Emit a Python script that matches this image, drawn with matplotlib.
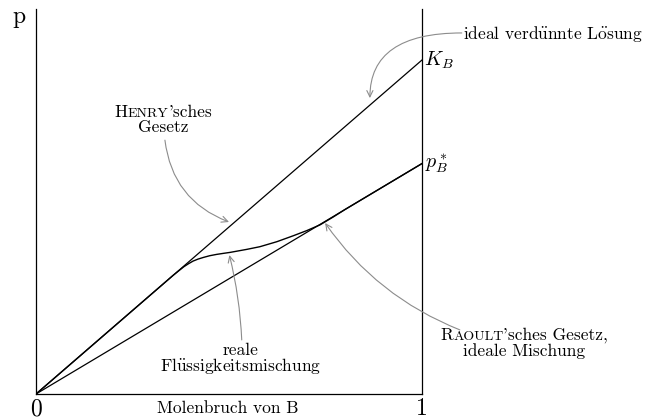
import matplotlib
matplotlib.use("Agg")
import matplotlib.pyplot as plt
import matplotlib.transforms as mtransforms

plt.rcParams['mathtext.fontset'] = 'cm'
plt.rcParams['font.family'] = 'cmr10'

# mole fraction of B and partial pressures (K_B = 1)
x_ends = [0.0, 1.0]
henry_p = [0.0, 1.0]
raoult_p = [0.0, 0.69]

# real liquid mixture: follows Henry at low x_B, Raoult near x_B = 1
x_real = [0.0, 0.34, 0.355, 0.37, 0.383, 0.395, 0.407, 0.42, 0.434, 0.45, 0.468,
          0.485, 0.503, 0.546, 0.580, 0.624, 0.667, 0.701, 0.736, 0.77, 0.80, 1.0]
p_real = [0.0, 0.34, 0.355, 0.369, 0.381, 0.390, 0.398, 0.404, 0.409, 0.414, 0.418,
          0.421, 0.424, 0.433, 0.441, 0.456, 0.474, 0.489, 0.5065, 0.530, 0.552, 0.69]

FS = 12.5
SC = FS * 0.8
GREY = '#8c8c8c'

fig = plt.figure(figsize=(6.65, 4.19), dpi=100)
ax = fig.add_axes([36/665, 25/419, 386/665, 1.153*334/419])
ax.set_xlim(0, 1)
ax.set_ylim(0, 1.153)
ax.set_xticks([])
ax.set_yticks([])
ax.spines['top'].set_visible(False)
for s in ['left', 'right', 'bottom']:
    ax.spines[s].set_linewidth(0.9)

ax.plot(x_ends, henry_p, color='black', lw=0.9)
ax.plot(x_ends, raoult_p, color='black', lw=0.9)
ax.plot(x_real, p_real, color='black', lw=1.0)

# axis labels
ax.text(-0.043, 1.112, 'p', fontsize=17, ha='center', va='baseline')
ax.text(0.0, -0.063, '0', fontsize=17, ha='center', va='baseline')
ax.text(1.0, -0.063, '1', fontsize=17, ha='center', va='baseline')
ax.text(0.497, -0.056, 'Molenbruch von B', fontsize=FS, ha='center', va='baseline')
ax.text(1.006, 0.982, '$K_B$', fontsize=FS + 2, ha='left', va='baseline')
ax.text(1.008, 0.677, '$p^*_B$', fontsize=FS + 2, ha='left', va='baseline')

renderer = fig.canvas.get_renderer()


def caps_line(x, y, parts):
    # several pieces of text on one baseline, centred on x (fake small caps)
    items = [ax.text(x, y, s, fontsize=fs, ha='left', va='baseline', clip_on=False)
             for s, fs in parts]
    widths = [t.get_window_extent(renderer).width for t in items]
    pos = -sum(widths) / 2
    for t, w in zip(items, widths):
        t.set_transform(mtransforms.offset_copy(ax.transData, fig=fig, x=pos, y=0, units='dots'))
        pos += w


def arrow(start, end, style):
    ax.annotate('', xy=end, xytext=start, annotation_clip=False,
                arrowprops=dict(arrowstyle='->,head_length=0.45,head_width=0.22',
                                color=GREY, lw=0.8, shrinkA=0, shrinkB=0,
                                connectionstyle=style))


# ideal dilute solution
ax.text(1.107, 1.063, 'ideal verd$\\ddot{\\mathrm{u}}$nnte L$\\ddot{\\mathrm{o}}$sung',
        fontsize=FS, ha='left', va='baseline')
arrow((1.103, 1.081), (0.865, 0.886), 'angle3,angleA=0,angleB=90')

# Henry's law
caps_line(0.330, 0.829, [('H', FS), ('ENRY', SC), ("'sches", FS)])
ax.text(0.330, 0.784, 'Gesetz', fontsize=FS, ha='center', va='baseline')
arrow((0.334, 0.760), (0.500, 0.515), 'arc3,rad=0.3')

# real mixture
ax.text(0.531, 0.117, 'reale', fontsize=FS, ha='center', va='baseline')
ax.text(0.531, 0.070, 'Fl$\\ddot{\\mathrm{u}}$ssigkeitsmischung', fontsize=FS,
        ha='center', va='baseline')
arrow((0.533, 0.162), (0.501, 0.416), 'arc3,rad=0.05')

# Raoult's law
caps_line(1.265, 0.162, [('R', FS), ('AOULT', SC), ("'sches Gesetz,", FS)])
ax.text(1.265, 0.115, 'ideale Mischung', fontsize=FS, ha='center', va='baseline')
arrow((1.098, 0.192), (0.749, 0.512), 'arc3,rad=-0.15')

fig.savefig('out.png', dpi=100, facecolor='white')
